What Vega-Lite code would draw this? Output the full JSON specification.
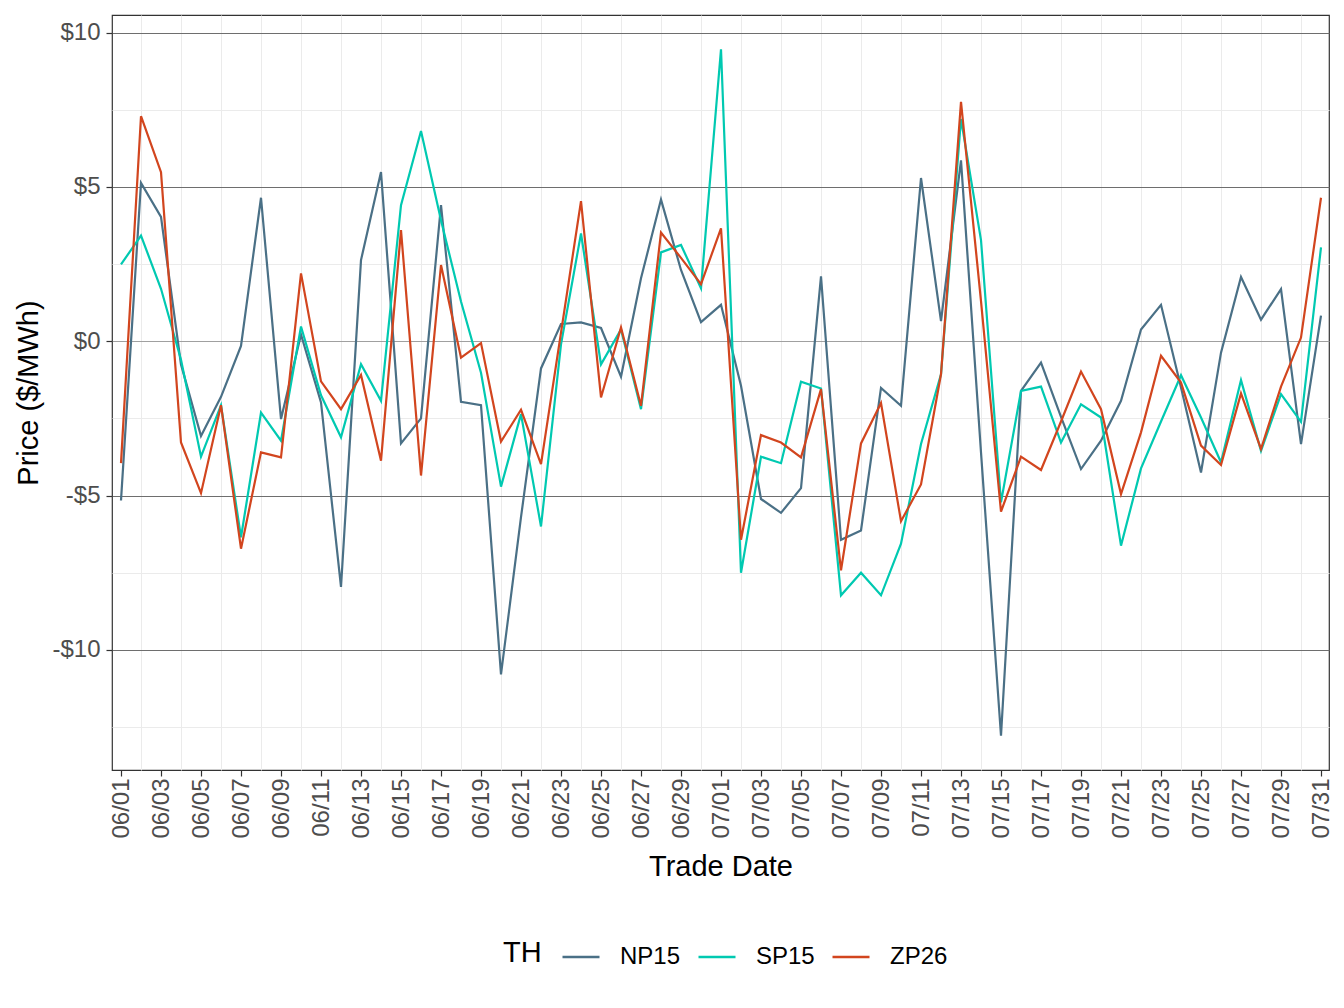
{
  "$schema": "https://vega.github.io/schema/vega-lite/v6.json",
  "width": 1217,
  "height": 755,
  "autosize": "none",
  "padding": {"left": 112, "top": 15, "right": 15, "bottom": 238},
  "background": "white",
  "config": {"font": "Liberation Sans", "view": {"stroke": "#333333", "strokeWidth": 1.2}},
  "data": {"values": [
    {"date": "2023-06-01", "NP15": -5.16, "SP15": 2.49, "ZP26": -3.95},
    {"date": "2023-06-02", "NP15": 5.13, "SP15": 3.42, "ZP26": 7.29},
    {"date": "2023-06-03", "NP15": 4.03, "SP15": 1.70, "ZP26": 5.48},
    {"date": "2023-06-04", "NP15": -0.75, "SP15": -0.6, "ZP26": -3.28},
    {"date": "2023-06-05", "NP15": -3.07, "SP15": -3.74, "ZP26": -4.92},
    {"date": "2023-06-06", "NP15": -1.8, "SP15": -2.07, "ZP26": -2.07},
    {"date": "2023-06-07", "NP15": -0.15, "SP15": -6.35, "ZP26": -6.72},
    {"date": "2023-06-08", "NP15": 4.65, "SP15": -2.31, "ZP26": -3.6},
    {"date": "2023-06-09", "NP15": -2.52, "SP15": -3.22, "ZP26": -3.76},
    {"date": "2023-06-10", "NP15": 0.22, "SP15": 0.48, "ZP26": 2.2},
    {"date": "2023-06-11", "NP15": -1.98, "SP15": -1.75, "ZP26": -1.3},
    {"date": "2023-06-12", "NP15": -7.96, "SP15": -3.11, "ZP26": -2.2},
    {"date": "2023-06-13", "NP15": 2.63, "SP15": -0.74, "ZP26": -1.09},
    {"date": "2023-06-14", "NP15": 5.48, "SP15": -1.93, "ZP26": -3.87},
    {"date": "2023-06-15", "NP15": -3.31, "SP15": 4.41, "ZP26": 3.6},
    {"date": "2023-06-16", "NP15": -2.5, "SP15": 6.81, "ZP26": -4.35},
    {"date": "2023-06-17", "NP15": 4.41, "SP15": 3.92, "ZP26": 2.47},
    {"date": "2023-06-18", "NP15": -1.96, "SP15": 1.29, "ZP26": -0.53},
    {"date": "2023-06-19", "NP15": -2.07, "SP15": -1.02, "ZP26": -0.06},
    {"date": "2023-06-20", "NP15": -10.79, "SP15": -4.71, "ZP26": -3.25},
    {"date": "2023-06-21", "NP15": -5.7, "SP15": -2.36, "ZP26": -2.22},
    {"date": "2023-06-22", "NP15": -0.88, "SP15": -6.0, "ZP26": -3.98},
    {"date": "2023-06-23", "NP15": 0.56, "SP15": -0.1, "ZP26": 0.28},
    {"date": "2023-06-24", "NP15": 0.61, "SP15": 3.49, "ZP26": 4.54},
    {"date": "2023-06-25", "NP15": 0.43, "SP15": -0.75, "ZP26": -1.82},
    {"date": "2023-06-26", "NP15": -1.15, "SP15": 0.38, "ZP26": 0.45},
    {"date": "2023-06-27", "NP15": 2.04, "SP15": -2.2, "ZP26": -2.09},
    {"date": "2023-06-28", "NP15": 4.59, "SP15": 2.88, "ZP26": 3.52},
    {"date": "2023-06-29", "NP15": 2.31, "SP15": 3.12, "ZP26": 2.7},
    {"date": "2023-06-30", "NP15": 0.62, "SP15": 1.72, "ZP26": 1.85},
    {"date": "2023-07-01", "NP15": 1.18, "SP15": 9.46, "ZP26": 3.66},
    {"date": "2023-07-02", "NP15": -1.44, "SP15": -7.5, "ZP26": -6.43},
    {"date": "2023-07-03", "NP15": -5.11, "SP15": -3.74, "ZP26": -3.04},
    {"date": "2023-07-04", "NP15": -5.56, "SP15": -3.95, "ZP26": -3.28},
    {"date": "2023-07-05", "NP15": -4.76, "SP15": -1.31, "ZP26": -3.76},
    {"date": "2023-07-06", "NP15": 2.1, "SP15": -1.53, "ZP26": -1.55},
    {"date": "2023-07-07", "NP15": -6.43, "SP15": -8.23, "ZP26": -7.42},
    {"date": "2023-07-08", "NP15": -6.13, "SP15": -7.5, "ZP26": -3.31},
    {"date": "2023-07-09", "NP15": -1.51, "SP15": -8.23, "ZP26": -2.0},
    {"date": "2023-07-10", "NP15": -2.09, "SP15": -6.56, "ZP26": -5.83},
    {"date": "2023-07-11", "NP15": 5.29, "SP15": -3.33, "ZP26": -4.64},
    {"date": "2023-07-12", "NP15": 0.65, "SP15": -1.07, "ZP26": -1.07},
    {"date": "2023-07-13", "NP15": 5.86, "SP15": 7.2, "ZP26": 7.76},
    {"date": "2023-07-14", "NP15": -3.6, "SP15": 3.28, "ZP26": 1.3},
    {"date": "2023-07-15", "NP15": -12.78, "SP15": -5.22, "ZP26": -5.52},
    {"date": "2023-07-16", "NP15": -1.61, "SP15": -1.61, "ZP26": -3.74},
    {"date": "2023-07-17", "NP15": -0.69, "SP15": -1.47, "ZP26": -4.17},
    {"date": "2023-07-18", "NP15": -2.45, "SP15": -3.28, "ZP26": -2.6},
    {"date": "2023-07-19", "NP15": -4.14, "SP15": -2.04, "ZP26": -0.98},
    {"date": "2023-07-20", "NP15": -3.22, "SP15": -2.47, "ZP26": -2.2},
    {"date": "2023-07-21", "NP15": -1.93, "SP15": -6.62, "ZP26": -4.95},
    {"date": "2023-07-22", "NP15": 0.38, "SP15": -4.12, "ZP26": -2.95},
    {"date": "2023-07-23", "NP15": 1.18, "SP15": -2.6, "ZP26": -0.47},
    {"date": "2023-07-24", "NP15": -1.5, "SP15": -1.10, "ZP26": -1.34},
    {"date": "2023-07-25", "NP15": -4.25, "SP15": -2.47, "ZP26": -3.38},
    {"date": "2023-07-26", "NP15": -0.37, "SP15": -3.92, "ZP26": -4.01},
    {"date": "2023-07-27", "NP15": 2.08, "SP15": -1.26, "ZP26": -1.69},
    {"date": "2023-07-28", "NP15": 0.70, "SP15": -3.55, "ZP26": -3.49},
    {"date": "2023-07-29", "NP15": 1.69, "SP15": -1.71, "ZP26": -1.47},
    {"date": "2023-07-30", "NP15": -3.33, "SP15": -2.61, "ZP26": 0.12},
    {"date": "2023-07-31", "NP15": 0.83, "SP15": 3.04, "ZP26": 4.65}
  ]},
  "transform": [{"fold": ["NP15", "SP15", "ZP26"], "as": ["TH", "price"]}],
  "layer": [
    {
      "mark": {"type": "line", "strokeOpacity": 0},
      "encoding": {
        "x": {
          "field": "date", "type": "temporal",
          "scale": {"type": "utc", "domain": [
            {"year": 2023, "month": 5, "date": 31, "hours": 13, "minutes": 12, "utc": true},
            {"year": 2023, "month": 7, "date": 31, "hours": 9, "minutes": 36, "utc": true}
          ]},
          "axis": {
            "orient": "top", "grid": true, "gridColor": "#EBEBEB", "gridWidth": 1,
            "labels": false, "ticks": false, "domain": false, "title": null,
            "values": [
              {"year": 2023, "month": 6, "date": 2, "utc": true},
              {"year": 2023, "month": 6, "date": 4, "utc": true},
              {"year": 2023, "month": 6, "date": 6, "utc": true},
              {"year": 2023, "month": 6, "date": 8, "utc": true},
              {"year": 2023, "month": 6, "date": 10, "utc": true},
              {"year": 2023, "month": 6, "date": 12, "utc": true},
              {"year": 2023, "month": 6, "date": 14, "utc": true},
              {"year": 2023, "month": 6, "date": 16, "utc": true},
              {"year": 2023, "month": 6, "date": 18, "utc": true},
              {"year": 2023, "month": 6, "date": 20, "utc": true},
              {"year": 2023, "month": 6, "date": 22, "utc": true},
              {"year": 2023, "month": 6, "date": 24, "utc": true},
              {"year": 2023, "month": 6, "date": 26, "utc": true},
              {"year": 2023, "month": 6, "date": 28, "utc": true},
              {"year": 2023, "month": 6, "date": 30, "utc": true},
              {"year": 2023, "month": 7, "date": 2, "utc": true},
              {"year": 2023, "month": 7, "date": 4, "utc": true},
              {"year": 2023, "month": 7, "date": 6, "utc": true},
              {"year": 2023, "month": 7, "date": 8, "utc": true},
              {"year": 2023, "month": 7, "date": 10, "utc": true},
              {"year": 2023, "month": 7, "date": 12, "utc": true},
              {"year": 2023, "month": 7, "date": 14, "utc": true},
              {"year": 2023, "month": 7, "date": 16, "utc": true},
              {"year": 2023, "month": 7, "date": 18, "utc": true},
              {"year": 2023, "month": 7, "date": 20, "utc": true},
              {"year": 2023, "month": 7, "date": 22, "utc": true},
              {"year": 2023, "month": 7, "date": 24, "utc": true},
              {"year": 2023, "month": 7, "date": 26, "utc": true},
              {"year": 2023, "month": 7, "date": 28, "utc": true},
              {"year": 2023, "month": 7, "date": 30, "utc": true}
            ]
          }
        },
        "y": {
          "field": "price", "type": "quantitative",
          "scale": {"domain": [-13.89, 10.57], "nice": false, "zero": false},
          "axis": {
            "orient": "right", "grid": true, "gridColor": "#EBEBEB", "gridWidth": 1,
            "labels": false, "ticks": false, "domain": false, "title": null,
            "values": [-12.5, -7.5, -2.5, 2.5, 7.5]
          }
        },
        "detail": {"field": "TH", "type": "nominal"}
      }
    },
    {
      "mark": {"type": "line", "strokeWidth": 2.2},
      "encoding": {
        "x": {
          "field": "date", "type": "temporal",
          "scale": {"type": "utc", "domain": [
            {"year": 2023, "month": 5, "date": 31, "hours": 13, "minutes": 12, "utc": true},
            {"year": 2023, "month": 7, "date": 31, "hours": 9, "minutes": 36, "utc": true}
          ]},
          "title": "Trade Date",
          "axis": {
            "orient": "bottom", "grid": false, "domain": false,
            "tickCount": {"interval": "day", "step": 2},
            "format": "%m/%d", "labelAngle": 270,
            "labelFontSize": 24, "labelColor": "#4D4D4D", "labelPadding": 2,
            "tickSize": 6, "tickColor": "#333333", "tickWidth": 1.2,
            "titleFontSize": 29, "titleFontWeight": "normal", "titleColor": "black", "titlePadding": 14,
            "labelFlush": false, "labelOverlap": false
          }
        },
        "y": {
          "field": "price", "type": "quantitative",
          "scale": {"domain": [-13.89, 10.57], "nice": false, "zero": false},
          "title": "Price ($/MWh)",
          "axis": {
            "orient": "left", "values": [-10, -5, 0, 5, 10],
            "grid": true,
            "gridColor": {"condition": {"test": "datum.value === 0", "value": "#A0A0A0"}, "value": "#6E6E6E"},
            "gridWidth": 1,
            "domain": false,
            "labelExpr": "datum.value < 0 ? '-$' + abs(datum.value) : '$' + datum.value",
            "labelFontSize": 24, "labelColor": "#4D4D4D", "labelPadding": 6,
            "tickSize": 6, "tickColor": "#333333", "tickWidth": 1.2,
            "titleFontSize": 29, "titleFontWeight": "normal", "titleColor": "black", "titlePadding": 8
          }
        },
        "color": {
          "field": "TH", "type": "nominal",
          "scale": {"domain": ["NP15", "SP15", "ZP26"], "range": ["#4A7086", "#00C9B1", "#D2451E"]},
          "legend": {
            "orient": "none", "legendX": 391, "legendY": 922,
            "direction": "horizontal", "title": "TH", "titleOrient": "left",
            "titleFontSize": 29, "titleFontWeight": "normal", "titleColor": "black", "titlePadding": 19,
            "labelFontSize": 24, "labelColor": "black", "labelOffset": 19,
            "symbolType": "stroke", "symbolSize": 1369, "symbolStrokeWidth": 2.5,
            "columnPadding": 12
          }
        }
      }
    }
  ],
  "resolve": {"axis": {"x": "independent", "y": "independent"}}
}
